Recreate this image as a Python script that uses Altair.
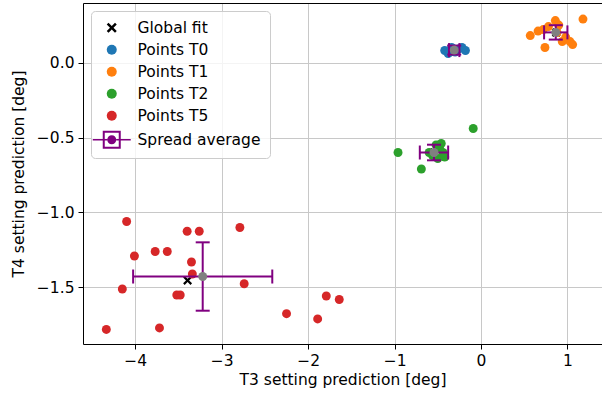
import altair as alt
import pandas as pd

# ---------------- data ----------------
series_names = ["Global fit", "Points T0", "Points T1", "Points T2", "Points T5", "Spread average"]
series_colors = ["#000000", "#1f77b4", "#ff7f0e", "#2ca02c", "#d62728", "#800080"]

t0_x = [-0.42, -0.38, -0.34, -0.30, -0.26, -0.22, -0.18, -0.32, -0.36]
t0_y = [0.08, 0.06, 0.10, 0.07, 0.09, 0.10, 0.08, 0.09, 0.07]

t1_x = [1.18, 0.86, 0.57, 0.66, 0.74, 1.03, 0.94, 0.98, 0.78, 0.90, 0.72, 1.06, 0.88]
t1_y = [0.29, 0.28, 0.18, 0.21, 0.10, 0.14, 0.14, 0.17, 0.24, 0.25, 0.22, 0.12, 0.20]

t2_x = [-0.96, -0.69, -0.09, -0.60, -0.52, -0.48, -0.44, -0.42, -0.50, -0.56, -0.46]
t2_y = [-0.60, -0.71, -0.44, -0.60, -0.55, -0.57, -0.60, -0.63, -0.64, -0.62, -0.54]

t5_x = [-4.10, -3.40, -3.26, -2.79, -4.01, -3.77, -3.63, -3.35, -3.34, -4.15,
        -2.74, -3.52, -3.48, -4.335, -3.72, -2.25, -1.89, -1.79, -1.64]
t5_y = [-1.06, -1.125, -1.125, -1.10, -1.29, -1.26, -1.26, -1.33, -1.41, -1.51,
        -1.475, -1.55, -1.55, -1.78, -1.77, -1.675, -1.71, -1.557, -1.58]

fit_x = [-0.31, 0.87, -0.54, -3.395]
fit_y = [0.08, 0.20, -0.60, -1.453]

avg_x = [-0.31, 0.865, -0.544, -3.22]
avg_y = [0.083, 0.201, -0.600, -1.427]
err_x = [0.06, 0.135, 0.164, 0.805]
err_y = [0.03, 0.048, 0.052, 0.228]

x_ticks = [-4, -3, -2, -1, 0, 1]
y_ticks = [0.0, -0.5, -1.0, -1.5]
x_domain = [-4.605, 1.40]
y_domain = [-1.877, 0.397]

# ---------------- tables ----------------
rows = []
for name, xs_, ys_ in [("Points T0", t0_x, t0_y), ("Points T1", t1_x, t1_y),
                       ("Points T2", t2_x, t2_y), ("Points T5", t5_x, t5_y)]:
    for a, b in zip(xs_, ys_):
        rows.append({"x": a, "y": b, "series": name})
points_df = pd.DataFrame(rows)
fit_df = pd.DataFrame({"x": fit_x, "y": fit_y, "series": "Global fit"})
avg_df = pd.DataFrame({"x": avg_x, "y": avg_y, "ex": err_x, "ey": err_y})
avg_df["xlo"] = avg_df["x"] - avg_df["ex"]
avg_df["xhi"] = avg_df["x"] + avg_df["ex"]
avg_df["ylo"] = avg_df["y"] - avg_df["ey"]
avg_df["yhi"] = avg_df["y"] + avg_df["ey"]

# ---------------- shapes ----------------
x_shape = ("M-1,-0.65L-0.65,-1L0,-0.35L0.65,-1L1,-0.65L0.35,0L1,0.65L0.65,1"
           "L0,0.35L-0.65,1L-1,0.65L-0.35,0Z")
spread_shape = ("M-1.8,-1.8L1.8,-1.8L1.8,1.8L-1.8,1.8Z"
                "M-1.4,-1.4L-1.4,1.4L1.4,1.4L1.4,-1.4Z"
                "M0.9,0A0.9,0.9,0,1,1,-0.9,0A0.9,0.9,0,1,1,0.9,0Z"
                "M-3.8,-0.17L-0.9,-0.17L-0.9,0.17L-3.8,0.17Z"
                "M0.9,-0.17L3.8,-0.17L3.8,0.17L0.9,0.17Z")
shape_range = [x_shape, "circle", "circle", "circle", "circle", spread_shape]

FONT = "DejaVu Sans"
FS = 15.5
PT = 80

xs = alt.Scale(domain=x_domain, nice=False, zero=False)
ys = alt.Scale(domain=y_domain, nice=False, zero=False)

legend = alt.Legend(
    orient="none", legendX=8, legendY=8, title=None,
    fillColor="rgba(255,255,255,0.8)", strokeColor="#cccccc", cornerRadius=4,
    padding=9, labelFont=FONT, labelFontSize=FS, labelColor="#000000",
    labelOffset=18, symbolOffset=4, rowPadding=5,
)

color_enc = alt.Color("series:N", scale=alt.Scale(domain=series_names, range=series_colors),
                      legend=legend)
shape_enc = alt.Shape("series:N", scale=alt.Scale(domain=series_names, range=shape_range),
                      legend=legend)

x_axis_bottom = alt.Axis(values=x_ticks, format="d", title="T3 setting prediction [deg]",
                         grid=True, domain=True)
y_axis_left = alt.Axis(values=y_ticks, format=".1f", title="T4 setting prediction [deg]",
                       grid=True, domain=True)
x_axis_top = alt.Axis(orient="top", labels=False, ticks=False, grid=False, domain=True,
                      title="")

fit_layer = alt.Chart(fit_df).mark_point(filled=True, opacity=1, size=PT).encode(
    x=alt.X("x:Q", scale=xs, axis=x_axis_top),
    y=alt.Y("y:Q", scale=ys, axis=y_axis_left),
    color=color_enc, shape=shape_enc,
)

points_layer = alt.Chart(points_df).mark_point(filled=True, opacity=1, size=PT).encode(
    x=alt.X("x:Q", scale=xs, axis=x_axis_bottom),
    y=alt.Y("y:Q", scale=ys, axis=y_axis_left),
    color=color_enc, shape=shape_enc,
)

PURPLE = "#800080"
base_avg = alt.Chart(avg_df)
hbar = base_avg.mark_rule(color=PURPLE, strokeWidth=2).encode(
    x=alt.X("xlo:Q", scale=xs, axis=None), x2="xhi:Q",
    y=alt.Y("y:Q", scale=ys, axis=y_axis_left),
)
vbar = base_avg.mark_rule(color=PURPLE, strokeWidth=2).encode(
    x=alt.X("x:Q", scale=xs, axis=None),
    y=alt.Y("ylo:Q", scale=ys, axis=y_axis_left), y2="yhi:Q",
)
cap_l = base_avg.mark_tick(color=PURPLE, orient="vertical", size=14, thickness=2, opacity=1).encode(
    x=alt.X("xlo:Q", scale=xs, axis=None), y=alt.Y("y:Q", scale=ys, axis=y_axis_left))
cap_r = base_avg.mark_tick(color=PURPLE, orient="vertical", size=14, thickness=2, opacity=1).encode(
    x=alt.X("xhi:Q", scale=xs, axis=None), y=alt.Y("y:Q", scale=ys, axis=y_axis_left))
cap_b = base_avg.mark_tick(color=PURPLE, orient="horizontal", size=14, thickness=2, opacity=1).encode(
    x=alt.X("x:Q", scale=xs, axis=None), y=alt.Y("ylo:Q", scale=ys, axis=y_axis_left))
cap_t = base_avg.mark_tick(color=PURPLE, orient="horizontal", size=14, thickness=2, opacity=1).encode(
    x=alt.X("x:Q", scale=xs, axis=None), y=alt.Y("yhi:Q", scale=ys, axis=y_axis_left))
avg_dots = base_avg.mark_point(filled=True, opacity=1, color="#808080", size=PT, shape="circle").encode(
    x=alt.X("x:Q", scale=xs, axis=None), y=alt.Y("y:Q", scale=ys, axis=y_axis_left))

chart = alt.layer(
    fit_layer, points_layer, hbar, vbar, cap_l, cap_r, cap_b, cap_t, avg_dots
).resolve_axis(x="independent").properties(
    width=519, height=341,
    autosize=alt.AutoSizeParams(type="none"),
    padding={"left": 83, "top": 3, "right": 0, "bottom": 56},
).configure_view(stroke=None).configure_axis(
    labelFont=FONT, labelFontSize=FS, labelColor="#000000",
    titleFont=FONT, titleFontSize=FS, titleColor="#000000", titleFontWeight="normal",
    domainColor="#000000", domainWidth=1,
    tickColor="#000000", tickSize=5, tickWidth=1,
    gridColor="#c8c8c8", gridWidth=1, labelPadding=4,
).configure_axisX(titlePadding=4).configure_axisY(titlePadding=10)

chart.save("out.html", embed_options={"renderer": "svg", "actions": False})
